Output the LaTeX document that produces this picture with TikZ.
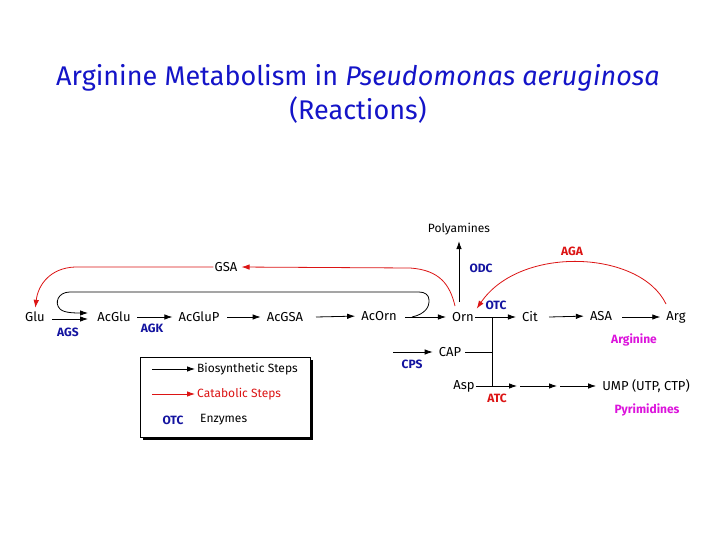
\documentclass[tikz,border=0pt]{standalone}
\usepackage{fontspec}
\setmainfont{Fira Sans}
\usetikzlibrary{arrows.meta}
\definecolor{tblue}{RGB}{20,20,200}
\definecolor{ered}{RGB}{220,20,20}
\definecolor{enz}{RGB}{20,20,160}
\definecolor{mag}{RGB}{220,20,220}
\begin{document}
\begin{tikzpicture}[x=1pt,y=-1pt,
  m/.style={font=\fontsize{13}{14}\selectfont,inner sep=1pt},
  sm/.style={font=\fontsize{12}{13}\selectfont,inner sep=1pt},
  en/.style={font=\bfseries\fontsize{12}{13}\selectfont,text=enz,inner sep=1pt},
  er/.style={font=\bfseries\fontsize{12}{13}\selectfont,text=ered,inner sep=1pt},
  pm/.style={font=\bfseries\fontsize{12}{13}\selectfont,text=mag,inner sep=1pt},
  ba/.style={-{Latex[length=8pt,width=5.5pt]},line width=0.8pt,shorten >=5pt},
  ra/.style={-{Latex[length=8pt,width=5.5pt]},line width=0.8pt,ered,shorten >=3pt}]
\fill[white] (0,0) rectangle (720,540);
\useasboundingbox (0,0) rectangle (720,540);
\node[text=tblue,font=\fontsize{27}{34}\selectfont,align=center] (title) at (358,94) {Arginine Metabolism in \textit{Pseudomonas aeruginosa}\\(Reactions)};
\node[m] (glu) at (35,317) {Glu};
\node[m] (acglu) at (114,317) {AcGlu};
\node[m] (acglup) at (199,317) {AcGluP};
\node[m] (acgsa) at (285,317) {AcGSA};
\node[m] (acorn) at (379,316) {AcOrn};
\node[m] (orn) at (463,317) {Orn};
\node[m] (cit) at (530,317) {Cit};
\node[m] (asa) at (601,316) {ASA};
\node[m] (arg) at (676,317) {Arg};
\node[sm] (poly) at (459,229) {Polyamines};
\node[m] (gsa) at (226,267) {GSA};
\node[m] (cap) at (450,352) {CAP};
\node[m] (asp) at (464,386) {Asp};
\node[m] (ump) at (646,386) {UMP (UTP, CTP)};
\node[en] (odc) at (481,268) {ODC};
\node[en] (otc) at (496,305) {OTC};
\node[en] (cps) at (412,364) {CPS};
\node[en] (ags) at (68,332) {AGS};
\node[en] (agk) at (152,328) {AGK};
\node[er] (aga) at (572,251) {AGA};
\node[er] (atc) at (497,398) {ATC};
\node[pm] (argn) at (634,340) {Arginine};
\node[pm] (pyr) at (647,410) {Pyrimidines};
% black
\coordinate (g1) at (52,319);\coordinate (g1e) at (88,319);
\draw[ba,shorten >=0pt] (g1) -- (g1e);
\coordinate (a1) at (137,317);\draw[ba] (a1) -- (acglup.west);
\coordinate (a2) at (227,317);\draw[ba] (a2) -- (acgsa.west);
\coordinate (a3) at (316,317);\draw[ba] (a3) -- (acorn.west);
\coordinate (a4) at (405,317);\draw[ba] (a4) -- (orn.west);
\draw[line width=0.8pt,-{Latex[length=8pt,width=5.5pt]}] (412,317) .. controls (426,314) and (429,306) .. (429,302) -- (429,300) .. controls (429,295) and (425,292) .. (419,292) -- (70,292) .. controls (58,292) and (54,303) .. (60,309) .. controls (64,313) and (75,313) .. (88,313);
\coordinate (ot) at (459,302);\draw[ba] (ot) -- (poly.south);
\draw[ba] (orn.east) -- (cit.west);
\coordinate (c1) at (549,317);\draw[ba] (c1) -- (asa.west);
\coordinate (s1) at (622,317);\draw[ba] (s1) -- (arg.west);
\coordinate (p1) at (393,352);\draw[ba] (p1) -- (cap.west);
\coordinate (v1) at (492,317);\coordinate (v2) at (492,386);
\draw[line width=0.8pt] (v1) -- (v2);
\coordinate (v3) at (492,352);
\draw[line width=0.8pt] (cap.east) ++(3,0) -- (v3);
\coordinate (u1) at (517,386);\coordinate (u2) at (520,386);\coordinate (u3) at (557,386);\coordinate (u4) at (560,386);
\draw[ba,shorten >=0pt] (asp.east) -- (u1);
\draw[ba,shorten >=0pt] (u2) -- (u3);
\draw[ba] (u4) -- (ump.west);
% red
\draw[ra] (455,306) .. controls (450,285) and (440,270) .. (410,268) -- (gsa.east);
\draw[ra] (gsa.west) -- (75,267) .. controls (50,268) and (38,285) .. (glu.north);
\draw[ra] (666,304) .. controls (640,250) and (520,245) .. (orn.north east);
% legend
\fill[black] (143,360) rectangle (313,440);
\draw[fill=white,line width=0.6pt] (140,357) rectangle (310,437);
\coordinate (l1) at (152,369);\coordinate (l2) at (152,394);
\node[sm,anchor=west] (bs) at (196,369) {Biosynthetic Steps};
\node[sm,anchor=west,text=ered] (cs) at (196,394) {Catabolic Steps};
\node[en] (lotc) at (173,420) {OTC};
\node[sm,anchor=west] (ez) at (199,420) {Enzymes};
\draw[ba,shorten >=1pt] (l1) -- (bs.west);
\draw[ra,shorten >=1pt] (l2) -- (cs.west);
\end{tikzpicture}
\end{document}
